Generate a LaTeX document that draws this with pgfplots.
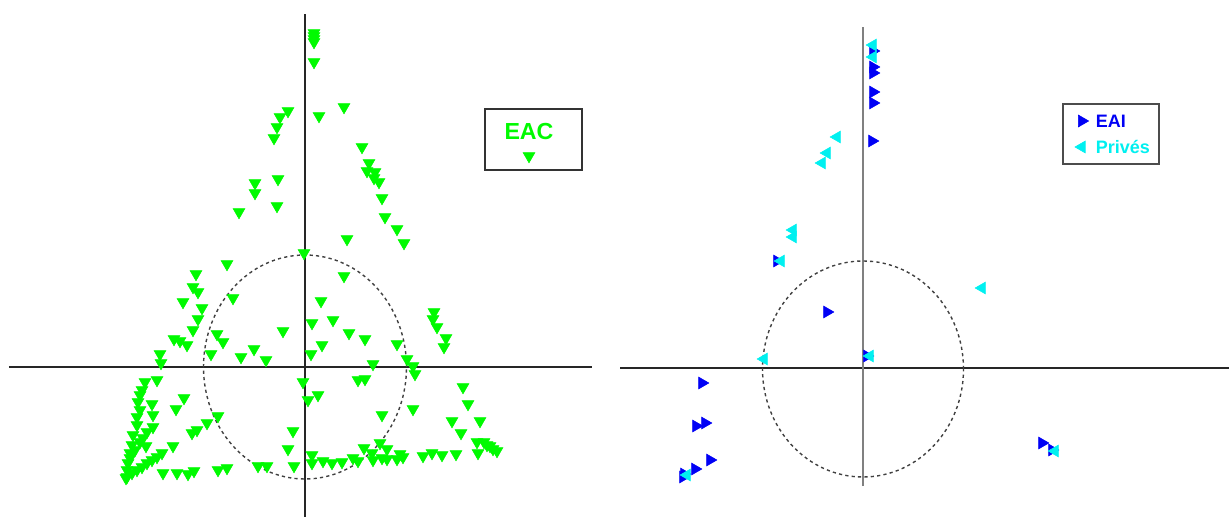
\documentclass[border=0pt]{standalone}
\usepackage{pgfplots}
\pgfplotsset{compat=1.18}
\usepackage{fontspec}
\newfontfamily\arialfont{Liberation Sans}
\definecolor{eacgreen}{RGB}{0,250,0}
\definecolor{eaiblue}{RGB}{0,0,245}
\definecolor{privcyan}{RGB}{0,240,240}
\pgfplotsset{
  panel/.style={scale only axis, x=0.5pt, y=0.5pt, axis lines=middle,
    axis line style={-, line width=0.9pt, black!85}, xtick=\empty, ytick=\empty, clip=false},
  eacleg/.style={legend image code/.code={
    \path[draw=none, fill=none] (-22pt,-6pt) rectangle (25.5pt,24.5pt);
    \node[inner sep=0pt, text depth=0pt, draw=none, fill=none, text=eacgreen, font=\arialfont\bfseries\fontsize{11.6}{12}\selectfont] at (0pt,13.25pt) {EAC};
    \draw[##1] plot coordinates {(0pt,1pt)};
  }},
  eaileg/.style={legend image code/.code={
    \path[draw=none, fill=none] (-7.7pt,-6.5pt) rectangle (7pt,6.5pt);
    \draw[##1] plot coordinates {(0pt,0pt)};
  }},
  privleg/.style={legend image code/.code={
    \path[draw=none, fill=none] (-9.4pt,-6.5pt) rectangle (5.3pt,6.5pt);
    \draw[##1] plot coordinates {(0pt,0pt)};
  }},
}
\begin{document}
\begin{tikzpicture}
\useasboundingbox (0,0) rectangle (614.5pt,-258.5pt);
% ---------------- left panel ----------------
\begin{axis}[panel, at={(4.5pt,-258.5pt)}, anchor=south west,
  xmin=-296, xmax=287, ymin=-150, ymax=353,
  legend style={at={(axis cs:179,259)}, anchor=north west, inner sep=0pt,
    draw=black!80, line width=1pt, fill=white, nodes={inner sep=0pt, text depth=0pt}}]
\addplot[only marks, mark=triangle*, mark size=3.4pt, color=eacgreen,
  mark options={rotate=180, line width=0.3pt}, eacleg]
coordinates {
(9,334) (9,331) (9,328) (9,325) (9,305) (14,251) (39,260)
(-17,256) (-25,250) (-28,240) (-31,229) (-27,188) (-50,184) (-50,174) (-28,161) (-66,155)
(57,220) (64,204) (62,196) (70,195) (69,189) (74,185) (77,169) (80,150) (92,138) (99,124) (42,128) (-1,114)
(-78,103) (-109,93) (-112,80) (-107,75) (-122,65) (-103,59) (-72,69) (-107,48) (-112,37)
(-131,28) (-125,26) (-118,22) (-88,33) (-82,25) (-94,13) (-22,36) (-145,13) (-144,4) (-64,10) (-51,18) (-39,7)
(39,91) (16,66) (7,44) (28,47) (44,34) (60,28) (17,22) (6,13) (92,23) (68,3) (102,8) (108,1) (110,-7)
(129,55) (128,48) (132,40) (141,29) (139,20)
(-148,-13) (-160,-15) (-163,-23) (-153,-37) (-152,-48) (-152,-60) (-158,-65) (-162,-71)
(-167,-35) (-165,-43) (-168,-50) (-168,-58) (-172,-68) (-173,-78) (-175,-86) (-177,-96) (-178,-103) (-178,-110)
(-165,-28) (-170,-83) (-165,-75) (-159,-79) (-175,-91)
(-173,-106) (-168,-103) (-163,-100) (-158,-96) (-153,-93) (-148,-90) (-143,-86) (-179,-111)
(-121,-31) (-129,-42) (-87,-49) (-98,-56) (-108,-63) (-113,-66) (-132,-79)
(-142,-106) (-128,-106) (-117,-107) (-111,-104) (-87,-103) (-78,-101) (-47,-99) (-38,-99)
(-12,-64) (-17,-82) (-11,-99) (-2,-15) (3,-33)
(53,-13) (60,-12) (13,-28) (108,-42) (158,-20) (163,-37) (77,-48) (147,-54) (175,-54)
(156,-66) (172,-75) (182,-78) (188,-82) (192,-84) (173,-86) (179,-75) (185,-79)
(59,-81) (75,-76) (82,-82) (7,-88) (7,-96) (18,-94) (27,-96) (37,-95) (48,-91) (53,-94)
(67,-86) (68,-93) (77,-91) (82,-92) (95,-87) (98,-90) (92,-92) (118,-89) (127,-86) (137,-88) (151,-87)
};
\addlegendentry{\mbox{}}
\draw[dash pattern=on 1.6pt off 1.6pt, line width=0.7pt, black!75] (axis cs:0,0) ellipse [x radius=101.5, y radius=112];
\end{axis}
% ---------------- right panel ----------------
\begin{axis}[panel, at={(310pt,-243pt)}, anchor=south west,
  xmin=-243, xmax=366, ymin=-118, ymax=341,
  y axis line style={black!50},
  legend cell align=left,
  legend style={at={(axis cs:199,265)}, anchor=north west, inner xsep=0pt, inner ysep=2pt,
    draw=black!70, line width=1pt, fill=white,
    font=\arialfont\bfseries\fontsize{9}{10}\selectfont,
    nodes={inner sep=0pt, text depth=0pt, text width=31.5pt, align=left}}]
\addplot[only marks, mark=triangle*, mark size=3.4pt, color=eaiblue,
  mark options={rotate=-90, line width=0.3pt}, eaileg]
coordinates {
(10,317) (10,301) (10,295) (10,276) (10,265) (9,227) (-86,107) (-36,56) (4,12)
(-161,-15) (-167,-58) (-158,-55) (-153,-92) (-168,-101) (-179,-106) (-180,-109)
(179,-75) (189,-82)
};
\addlegendentry{\textcolor{eaiblue}{EAI}}
\addplot[only marks, mark=triangle*, mark size=3.4pt, color=privcyan,
  mark options={rotate=90, line width=0.3pt}, privleg]
coordinates {
(10,323) (10,311) (-26,231) (-36,215) (-41,205) (-70,138) (-70,131) (-82,107)
(7,12) (-99,9) (-176,-107) (119,80) (192,-83)
};
\addlegendentry{\textcolor{privcyan}{Privés}}
\draw[dash pattern=on 1.6pt off 1.6pt, line width=0.7pt, black!75] (axis cs:0,-1) ellipse [x radius=100.5, y radius=108];
\end{axis}
\end{tikzpicture}
\end{document}
